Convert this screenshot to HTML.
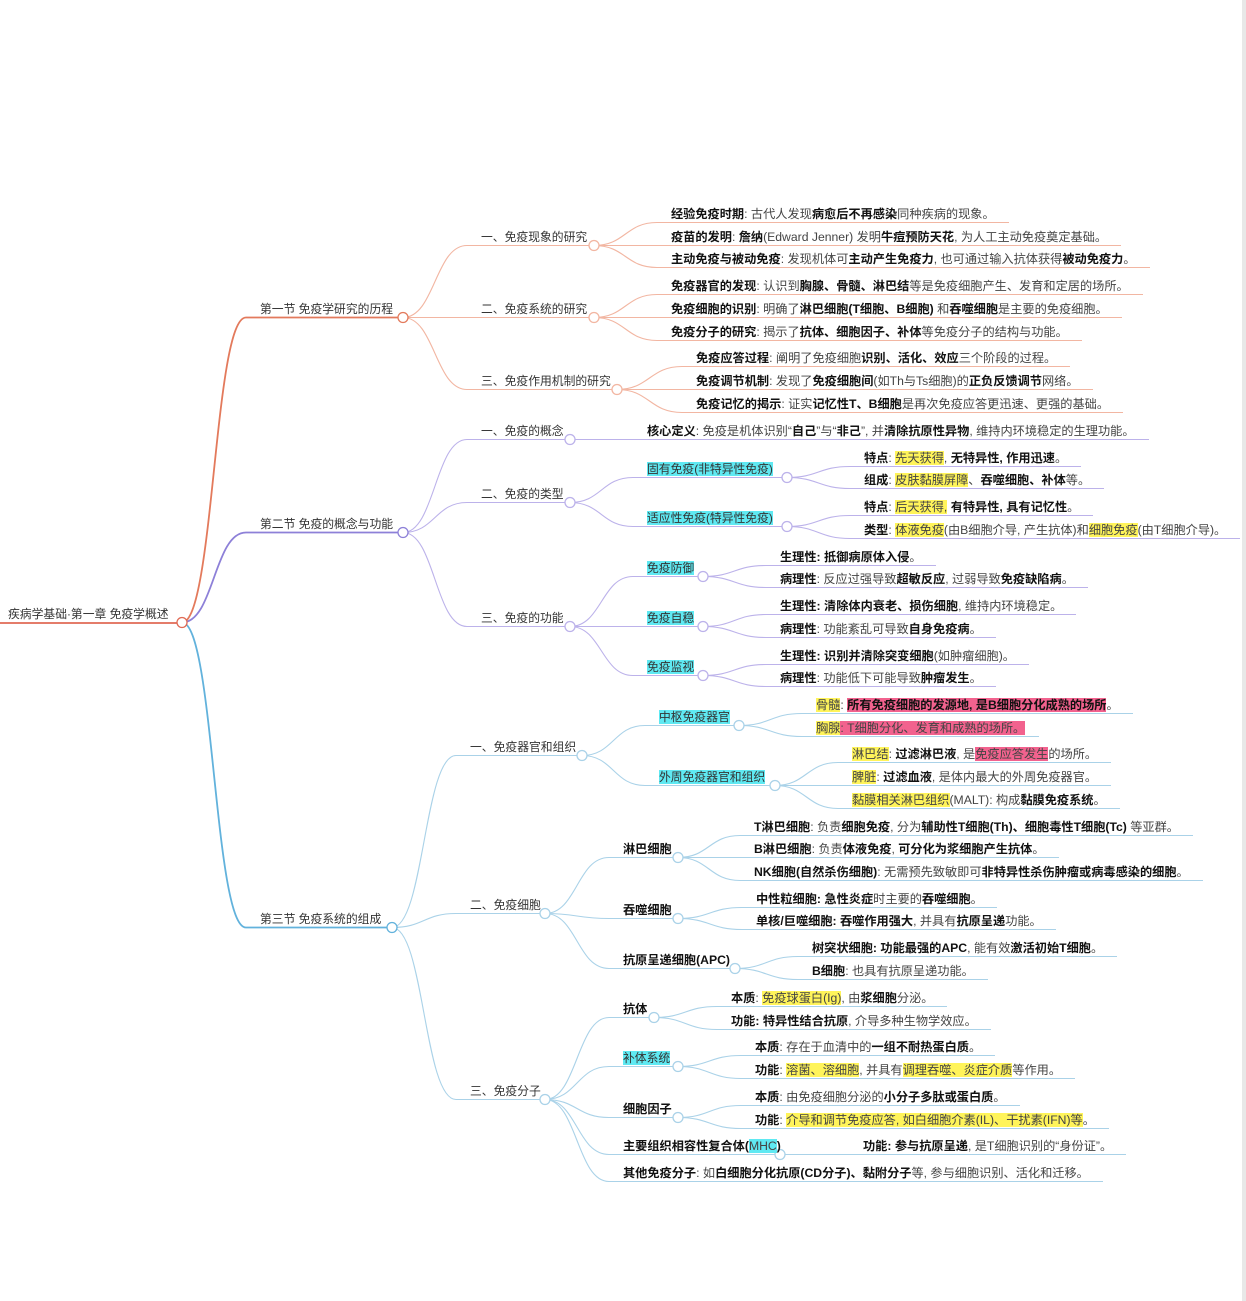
<!DOCTYPE html>
<html><head><meta charset="utf-8">
<style>
html,body{margin:0;padding:0;background:#fff;}
body{width:1246px;height:1301px;position:relative;overflow:hidden;font-family:"Liberation Sans","Noto Sans CJK SC",sans-serif;}
svg{position:absolute;left:0;top:0;}
.n{position:absolute;font-size:12.2px;line-height:16px;height:16px;white-space:nowrap;color:#444;margin-top:1px;}
.n b{color:#111;font-weight:700;}
.br{color:#333;font-size:11.8px;letter-spacing:0px;}
.y{background:#fff45a;}
.p{background:#f2628e;}
.c{background:#5fe9f2;}
#right{position:absolute;right:0;top:0;width:4px;height:1301px;background:#e8e8e8;}
</style></head><body>
<div id="right"></div>
<svg id="sv" width="1246" height="1301"></svg>

<div class="n br" id="r" style="left:8px;top:605px">疾病学基础·第一章 免疫学概述</div>
<div class="n br" id="s1" style="left:260px;top:300px">第一节 免疫学研究的历程</div>
<div class="n br" id="s2" style="left:260px;top:515px">第二节 免疫的概念与功能</div>
<div class="n br" id="s3" style="left:260px;top:910px">第三节 免疫系统的组成</div>

<div class="n br" id="a" style="left:481px;top:228px">一、免疫现象的研究</div>
<div class="n br" id="b" style="left:481px;top:300px">二、免疫系统的研究</div>
<div class="n br" id="c" style="left:481px;top:372px">三、免疫作用机制的研究</div>
<div class="n" id="a1" style="left:671px;top:205px"><b>经验免疫时期</b>: 古代人发现<b>病愈后不再感染</b>同种疾病的现象。</div>
<div class="n" id="a2" style="left:671px;top:228px"><b>疫苗的发明</b>: <b>詹纳</b>(Edward Jenner) 发明<b>牛痘预防天花</b>, 为人工主动免疫奠定基础。</div>
<div class="n" id="a3" style="left:671px;top:250px"><b>主动免疫与被动免疫</b>: 发现机体可<b>主动产生免疫力</b>, 也可通过输入抗体获得<b>被动免疫力</b>。</div>
<div class="n" id="b1" style="left:671px;top:277px"><b>免疫器官的发现</b>: 认识到<b>胸腺、骨髓、淋巴结</b>等是免疫细胞产生、发育和定居的场所。</div>
<div class="n" id="b2" style="left:671px;top:300px"><b>免疫细胞的识别</b>: 明确了<b>淋巴细胞(T细胞、B细胞)</b> 和<b>吞噬细胞</b>是主要的免疫细胞。</div>
<div class="n" id="b3" style="left:671px;top:323px"><b>免疫分子的研究</b>: 揭示了<b>抗体、细胞因子、补体</b>等免疫分子的结构与功能。</div>
<div class="n" id="c1" style="left:696px;top:349px"><b>免疫应答过程</b>: 阐明了免疫细胞<b>识别、活化、效应</b>三个阶段的过程。</div>
<div class="n" id="c2" style="left:696px;top:372px"><b>免疫调节机制</b>: 发现了<b>免疫细胞间</b>(如Th与Ts细胞)的<b>正负反馈调节</b>网络。</div>
<div class="n" id="c3" style="left:696px;top:395px"><b>免疫记忆的揭示</b>: 证实<b>记忆性T、B细胞</b>是再次免疫应答更迅速、更强的基础。</div>

<div class="n br" id="d" style="left:481px;top:422px">一、免疫的概念</div>
<div class="n br" id="e" style="left:481px;top:485px">二、免疫的类型</div>
<div class="n br" id="f" style="left:481px;top:609px">三、免疫的功能</div>
<div class="n" id="d1" style="left:647px;top:422px"><b>核心定义</b>: 免疫是机体识别“<b>自己</b>”与“<b>非己</b>”, 并<b>清除抗原性异物</b>, 维持内环境稳定的生理功能。</div>
<div class="n br" id="e1" style="left:647px;top:460px"><span class="c">固有免疫(非特异性免疫)</span></div>
<div class="n br" id="e2" style="left:647px;top:509px"><span class="c">适应性免疫(特异性免疫)</span></div>
<div class="n" id="e11" style="left:864px;top:449px"><b>特点</b>: <span class="y">先天获得</span>, <b>无特异性, 作用迅速</b>。</div>
<div class="n" id="e12" style="left:864px;top:471px"><b>组成</b>: <span class="y">皮肤黏膜屏障</span>、<b>吞噬细胞、补体</b>等。</div>
<div class="n" id="e21" style="left:864px;top:498px"><b>特点</b>: <span class="y">后天获得,</span> <b>有特异性, 具有记忆性</b>。</div>
<div class="n" id="e22" style="left:864px;top:521px"><b>类型</b>: <span class="y">体液免疫</span>(由B细胞介导, 产生抗体)和<span class="y">细胞免疫</span>(由T细胞介导)。</div>
<div class="n br" id="f1" style="left:647px;top:559px"><span class="c">免疫防御</span></div>
<div class="n br" id="f2" style="left:647px;top:609px"><span class="c">免疫自稳</span></div>
<div class="n br" id="f3" style="left:647px;top:658px"><span class="c">免疫监视</span></div>
<div class="n" id="f11" style="left:780px;top:548px"><b>生理性: 抵御病原体入侵</b>。</div>
<div class="n" id="f12" style="left:780px;top:570px"><b>病理性</b>: 反应过强导致<b>超敏反应</b>, 过弱导致<b>免疫缺陷病</b>。</div>
<div class="n" id="f21" style="left:780px;top:597px"><b>生理性: 清除体内衰老、损伤细胞</b>, 维持内环境稳定。</div>
<div class="n" id="f22" style="left:780px;top:620px"><b>病理性</b>: 功能紊乱可导致<b>自身免疫病</b>。</div>
<div class="n" id="f31" style="left:780px;top:647px"><b>生理性: 识别并清除突变细胞</b>(如肿瘤细胞)。</div>
<div class="n" id="f32" style="left:780px;top:669px"><b>病理性</b>: 功能低下可能导致<b>肿瘤发生</b>。</div>

<div class="n br" id="g" style="left:470px;top:738px">一、免疫器官和组织</div>
<div class="n br" id="h" style="left:470px;top:896px">二、免疫细胞</div>
<div class="n br" id="i" style="left:470px;top:1082px">三、免疫分子</div>
<div class="n br" id="g1" style="left:659px;top:708px"><span class="c">中枢免疫器官</span></div>
<div class="n br" id="g2" style="left:659px;top:768px"><span class="c">外周免疫器官和组织</span></div>
<div class="n" id="g11" style="left:816px;top:696px"><span class="y">骨髓</span>: <span class="p"><b>所有免疫细胞的发源地, 是B细胞分化成熟的场所</b></span>。</div>
<div class="n" id="g12" style="left:816px;top:719px"><span class="y">胸腺</span><span class="p">: T细胞分化、发育和成熟的场所。</span></div>
<div class="n" id="g21" style="left:852px;top:745px"><span class="y">淋巴结</span>: <b>过滤淋巴液</b>, 是<span class="p">免疫应答发生</span>的场所。</div>
<div class="n" id="g22" style="left:852px;top:768px"><span class="y">脾脏</span>: <b>过滤血液</b>, 是体内最大的外周免疫器官。</div>
<div class="n" id="g23" style="left:852px;top:791px"><span class="y">黏膜相关淋巴组织</span>(MALT): 构成<b>黏膜免疫系统</b>。</div>
<div class="n" id="h1" style="left:623px;top:840px"><b>淋巴细胞</b></div>
<div class="n" id="h2" style="left:623px;top:901px"><b>吞噬细胞</b></div>
<div class="n" id="h3" style="left:623px;top:951px"><b>抗原呈递细胞(APC)</b></div>
<div class="n" id="h11" style="left:754px;top:818px"><b>T淋巴细胞</b>: 负责<b>细胞免疫</b>, 分为<b>辅助性T细胞(Th)、细胞毒性T细胞(Tc)</b> 等亚群。</div>
<div class="n" id="h12" style="left:754px;top:840px"><b>B淋巴细胞</b>: 负责<b>体液免疫</b>, <b>可分化为浆细胞产生抗体</b>。</div>
<div class="n" id="h13" style="left:754px;top:863px"><b>NK细胞(自然杀伤细胞)</b>: 无需预先致敏即可<b>非特异性杀伤肿瘤或病毒感染的细胞</b>。</div>
<div class="n" id="h21" style="left:756px;top:890px"><b>中性粒细胞: 急性炎症</b>时主要的<b>吞噬细胞</b>。</div>
<div class="n" id="h22" style="left:756px;top:912px"><b>单核/巨噬细胞: 吞噬作用强大</b>, 并具有<b>抗原呈递</b>功能。</div>
<div class="n" id="h31" style="left:812px;top:939px"><b>树突状细胞: 功能最强的APC</b>, 能有效<b>激活初始T细胞</b>。</div>
<div class="n" id="h32" style="left:812px;top:962px"><b>B细胞</b>: 也具有抗原呈递功能。</div>
<div class="n" id="i1" style="left:623px;top:1000px"><b>抗体</b></div>
<div class="n br" id="i2" style="left:623px;top:1049px"><span class="c">补体系统</span></div>
<div class="n" id="i3" style="left:623px;top:1100px"><b>细胞因子</b></div>
<div class="n" id="i4" style="left:623px;top:1137px"><b>主要组织相容性复合体(</b><span class="c">MHC</span><b>)</b></div>
<div class="n" id="i5" style="left:623px;top:1164px"><b>其他免疫分子</b>: 如<b>白细胞分化抗原(CD分子)、黏附分子</b>等, 参与细胞识别、活化和迁移。</div>
<div class="n" id="i11" style="left:731px;top:989px"><b>本质</b>: <span class="y">免疫球蛋白(Ig)</span>, 由<b>浆细胞</b>分泌。</div>
<div class="n" id="i12" style="left:731px;top:1012px"><b>功能: 特异性结合抗原</b>, 介导多种生物学效应。</div>
<div class="n" id="i21" style="left:755px;top:1038px"><b>本质</b>: 存在于血清中的<b>一组不耐热蛋白质</b>。</div>
<div class="n" id="i22" style="left:755px;top:1061px"><b>功能</b>: <span class="y">溶菌、溶细胞</span>, 并具有<span class="y">调理吞噬、炎症介质</span>等作用。</div>
<div class="n" id="i31" style="left:755px;top:1088px"><b>本质</b>: 由免疫细胞分泌的<b>小分子多肽或蛋白质</b>。</div>
<div class="n" id="i32" style="left:755px;top:1111px"><b>功能</b>: <span class="y">介导和调节免疫应答, 如白细胞介素(IL)、干扰素(IFN)等</span>。</div>
<div class="n" id="i41" style="left:863px;top:1137px"><b>功能: 参与抗原呈递</b>, 是T细胞识别的“身份证”。</div>

<script>
var C1='#f2b6a2',C2='#bcb2ea',C3='#aad2e8';
var circ={r:182,s1:403,s2:403,s3:392,a:594,b:594,c:617,d:570,e:570,f:570,e1:787,e2:787,f1:703,f2:703,f3:703,
g:582,h:545,i:545,g1:739,g2:775,h1:678,h2:678,h3:735,i1:654,i2:678,i3:678,i4:780};
var E=[['s1','r','#e37a5c',1.8],['s2','r','#8d80d8',1.8],['s3','r','#62b2dc',1.8],
['a','s1',C1],['b','s1',C1],['c','s1',C1],['a1','a',C1],['a2','a',C1],['a3','a',C1],['b1','b',C1],['b2','b',C1],['b3','b',C1],['c1','c',C1],['c2','c',C1],['c3','c',C1],
['d','s2',C2],['e','s2',C2],['f','s2',C2],['d1','d',C2],['e1','e',C2],['e2','e',C2],['e11','e1',C2],['e12','e1',C2],['e21','e2',C2],['e22','e2',C2],
['f1','f',C2],['f2','f',C2],['f3','f',C2],['f11','f1',C2],['f12','f1',C2],['f21','f2',C2],['f22','f2',C2],['f31','f3',C2],['f32','f3',C2],
['g','s3',C3],['h','s3',C3],['i','s3',C3],['g1','g',C3],['g2','g',C3],['g11','g1',C3],['g12','g1',C3],['g21','g2',C3],['g22','g2',C3],['g23','g2',C3],
['h1','h',C3],['h2','h',C3],['h3','h',C3],['h11','h1',C3],['h12','h1',C3],['h13','h1',C3],['h21','h2',C3],['h22','h2',C3],['h31','h3',C3],['h32','h3',C3],
['i1','i',C3],['i2','i',C3],['i3','i',C3],['i4','i',C3],['i5','i',C3],['i11','i1',C3],['i12','i1',C3],['i21','i2',C3],['i22','i2',C3],['i31','i3',C3],['i32','i3',C3],['i41','i4',C3]];
var col={r:'#e06a55'};
function uy(id){var el=document.getElementById(id);return parseFloat(el.style.top)+17.5;}
function lx(id){return parseFloat(document.getElementById(id).style.left);}
var s='';
s+='<path d="M0 623 H182" stroke="#e06a55" stroke-width="1.8" fill="none"/>';
E.forEach(function(e){
 var id=e[0],p=e[1],c=e[2],w=e[3]||1.1;col[id]=c;
 var el=document.getElementById(id);
 var x=lx(id),y=uy(id),px=circ[p],py=uy(p);
 var x0=x-14,end=circ[id]||(x+el.offsetWidth+14);
 var m=px+(x0-px)*0.5;
 s+='<path d="M'+px+' '+py+' C'+m+' '+py+' '+m+' '+y+' '+x0+' '+y+' H'+end+'" stroke="'+c+'" stroke-width="'+w+'" fill="none"/>';
});
for(var k in circ){var cc=col[k];if(k==='s1')cc='#e37a5c';if(k==='s2')cc='#8d80d8';if(k==='s3')cc='#62b2dc';
 s+='<circle cx="'+circ[k]+'" cy="'+uy(k)+'" r="5" fill="#fff" stroke="'+cc+'" stroke-width="1.3"/>';}
document.getElementById('sv').innerHTML=s;
</script>
</body></html>
